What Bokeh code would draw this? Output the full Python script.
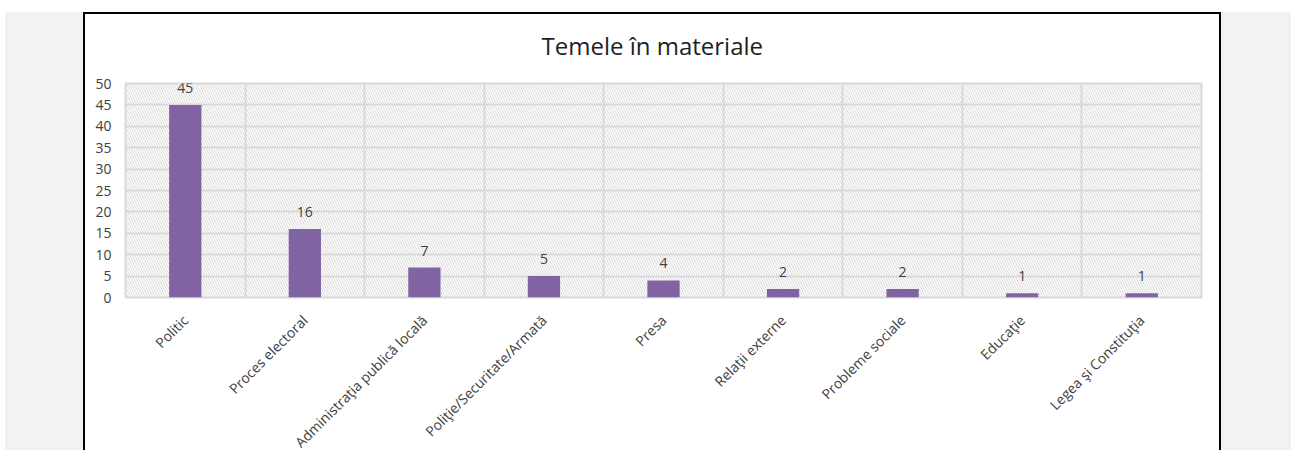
import math
from bokeh.plotting import figure
from bokeh.models import (FactorRange, Range1d, FixedTicker, ColumnDataSource,
                          LabelSet, BoxAnnotation, Title)
from bokeh.embed import file_html
from bokeh.resources import INLINE
from bokeh.core.properties import value

# ---- data ----
categories = ["Politic", "Proces electoral", "Administraţia publică locală",
              "Poliţie/Securitate/Armată", "Presa", "Relaţii externe",
              "Probleme sociale", "Educaţie", "Legea şi Constituţia"]
counts = [45, 16, 7, 5, 4, 2, 2, 1, 1]
y_ticks = [0, 5, 10, 15, 20, 25, 30, 35, 40, 45, 50]
title_text = "Temele în materiale"

FONT = "Open Sans"
TEXT_COLOR = "#404040"
GRID = "#d9d9d9"

src = ColumnDataSource(dict(cat=categories, val=counts,
                            lbl=[str(v) for v in counts]))

bg = ("linear-gradient(#000,#000) 83px 12px / 1138px 2px no-repeat, "
      "linear-gradient(#fff,#fff) 0 0 / 100% 12px no-repeat, "
      "linear-gradient(to right, #fff 0px, #fff 5px, #f2f2f2 5px, #f2f2f2 83px, "
      "#000 83px, #000 85px, #fff 85px, #fff 1219px, #000 1219px, #000 1221px, "
      "#f2f2f2 1221px, #f2f2f2 100%)")

p = figure(x_range=FactorRange(factors=categories), y_range=Range1d(0, 50),
           frame_width=1076, frame_height=214,
           min_border_left=125, min_border_right=90,
           min_border_top=83, min_border_bottom=153,
           output_backend="svg", toolbar_location=None,
           border_fill_alpha=0, background_fill_color="white",
           outline_line_color=GRID, outline_line_width=2,
           styles={"background": bg})

# hatched plot area
p.add_layout(BoxAnnotation(fill_alpha=0, line_color=None,
                           hatch_pattern="\\", hatch_color="#d8d8d8",
                           hatch_scale=5, hatch_weight=1, level="image"))

p.ygrid.ticker = FixedTicker(ticks=y_ticks)
p.ygrid.grid_line_color = GRID
p.ygrid.grid_line_width = 2
p.xgrid.ticker = FixedTicker(ticks=list(range(len(categories) + 1)))
p.xgrid.grid_line_color = GRID
p.xgrid.grid_line_width = 2

p.vbar(x="cat", top="val", width=0.27, source=src,
       fill_color="#8064a2", line_color=None)

p.add_layout(LabelSet(x="cat", y="val", text="lbl", source=src,
                      text_align="center", text_baseline="bottom", y_offset=12,
                      text_font=value(FONT), text_font_size="14px",
                      text_color=TEXT_COLOR))

p.yaxis.ticker = FixedTicker(ticks=y_ticks)
for ax in (p.xaxis, p.yaxis):
    ax.axis_line_color = None
    ax.major_tick_line_color = None
    ax.minor_tick_line_color = None
    ax.major_label_text_font = FONT
    ax.major_label_text_color = TEXT_COLOR
p.yaxis.major_label_text_font_size = "14px"
p.yaxis.major_label_standoff = 8
p.xaxis.major_label_text_font_size = "14px"
p.xaxis.major_label_orientation = math.pi / 4
p.xaxis.major_label_standoff = 14

p.add_layout(Title(text=title_text, align="left", offset=416,
                   text_font=FONT, text_font_size="24px",
                   text_font_style="normal", text_color="#1f1f1f",
                   standoff=43), "above")

open("out.html", "w").write(file_html(p, INLINE))
